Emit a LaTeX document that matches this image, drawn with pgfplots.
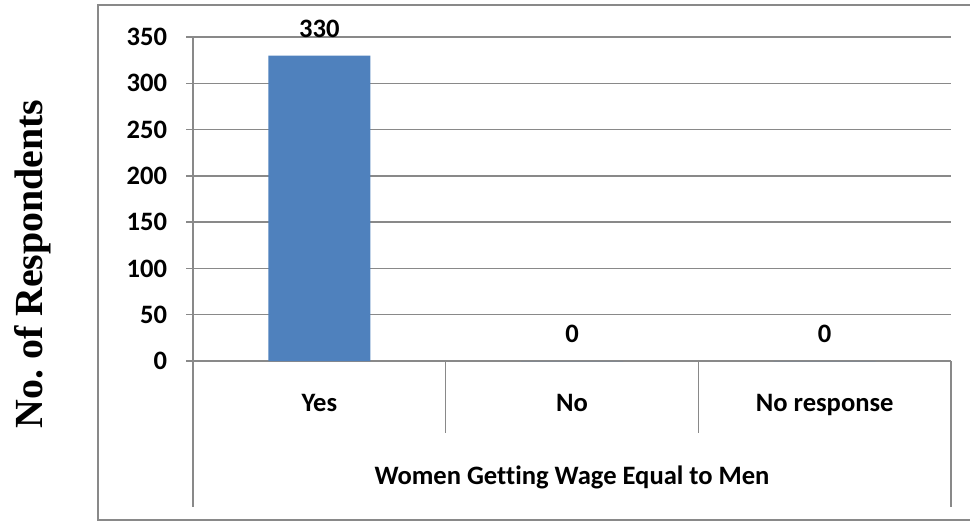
\documentclass[border=0pt]{standalone}
\usepackage{pgfplots}
\pgfplotsset{compat=1.18}
\usepackage{fontspec}
\setmainfont{Carlito}[Ligatures=NoCommon]
\newfontfamily\timesbf{Liberation Serif}
\definecolor{barblue}{HTML}{4F81BD}
\definecolor{gridgray}{HTML}{898989}
\begin{document}
\frenchspacing
\begin{tikzpicture}[x=0.75bp,y=0.75bp]
\clip (0,0) rectangle (970,521);
\path[use as bounding box] (0,0) rectangle (970,521);
\draw[gridgray, line width=1.5bp] (98,1) rectangle (985,516);
\node[rotate=90, anchor=base, font=\timesbf\bfseries\fontsize{30}{32}\selectfont] at (42,257) {No. of Respondents};
\begin{axis}[
  at={(144.75bp,120bp)}, anchor=south west,
  scale only axis,
  width=568.5bp, height=243bp,
  xmin=0, xmax=3, ymin=0, ymax=350,
  ytick={0,50,...,350},
  xtick={0.5,1.5,2.5},
  xticklabels={Yes,No,No response},
  axis x line*=bottom, axis y line*=left,
  axis line style={gridgray, line width=1.1bp, -},
  ymajorgrids,
  grid style={gridgray, line width=1.1bp},
  tick align=outside,
  major tick length=5.25bp,
  y tick style={gridgray, line width=1.1bp},
  x tick style={draw=none},
  /pgf/number format/assume math mode=true,
  ticklabel style={font=\bfseries\fontsize{20}{22}\selectfont},
  yticklabel style={anchor=east, inner sep=0pt, xshift=-14bp},
  xticklabel style={anchor=base, inner sep=0pt, yshift=-32.25bp},
  xlabel={Women Getting Wage Equal to Men},
  xlabel style={at={(axis description cs:0.5,0)}, anchor=base, inner sep=0pt, yshift=-92.25bp, font=\bfseries\fontsize{20}{22}\selectfont},
  ybar, bar width=76.5bp, bar shift=0pt,
  nodes near coords,
  nodes near coords style={anchor=south, inner sep=0pt, yshift=13.5bp, font=\bfseries\fontsize{20}{22}\selectfont},
  clip=false,
]
\addplot[fill=barblue, draw=none] coordinates {(0.5,330) (1.5,0) (2.5,0)};
\draw[gridgray, line width=1.1bp] (axis cs:0,0) -- ++(0,-109.5bp);
\draw[gridgray, line width=1.1bp] (axis cs:3,0) -- ++(0,-109.5bp);
\draw[gridgray, line width=1.1bp] (axis cs:1,0) -- ++(0,-54bp);
\draw[gridgray, line width=1.1bp] (axis cs:2,0) -- ++(0,-54bp);
\end{axis}
\end{tikzpicture}
\end{document}
